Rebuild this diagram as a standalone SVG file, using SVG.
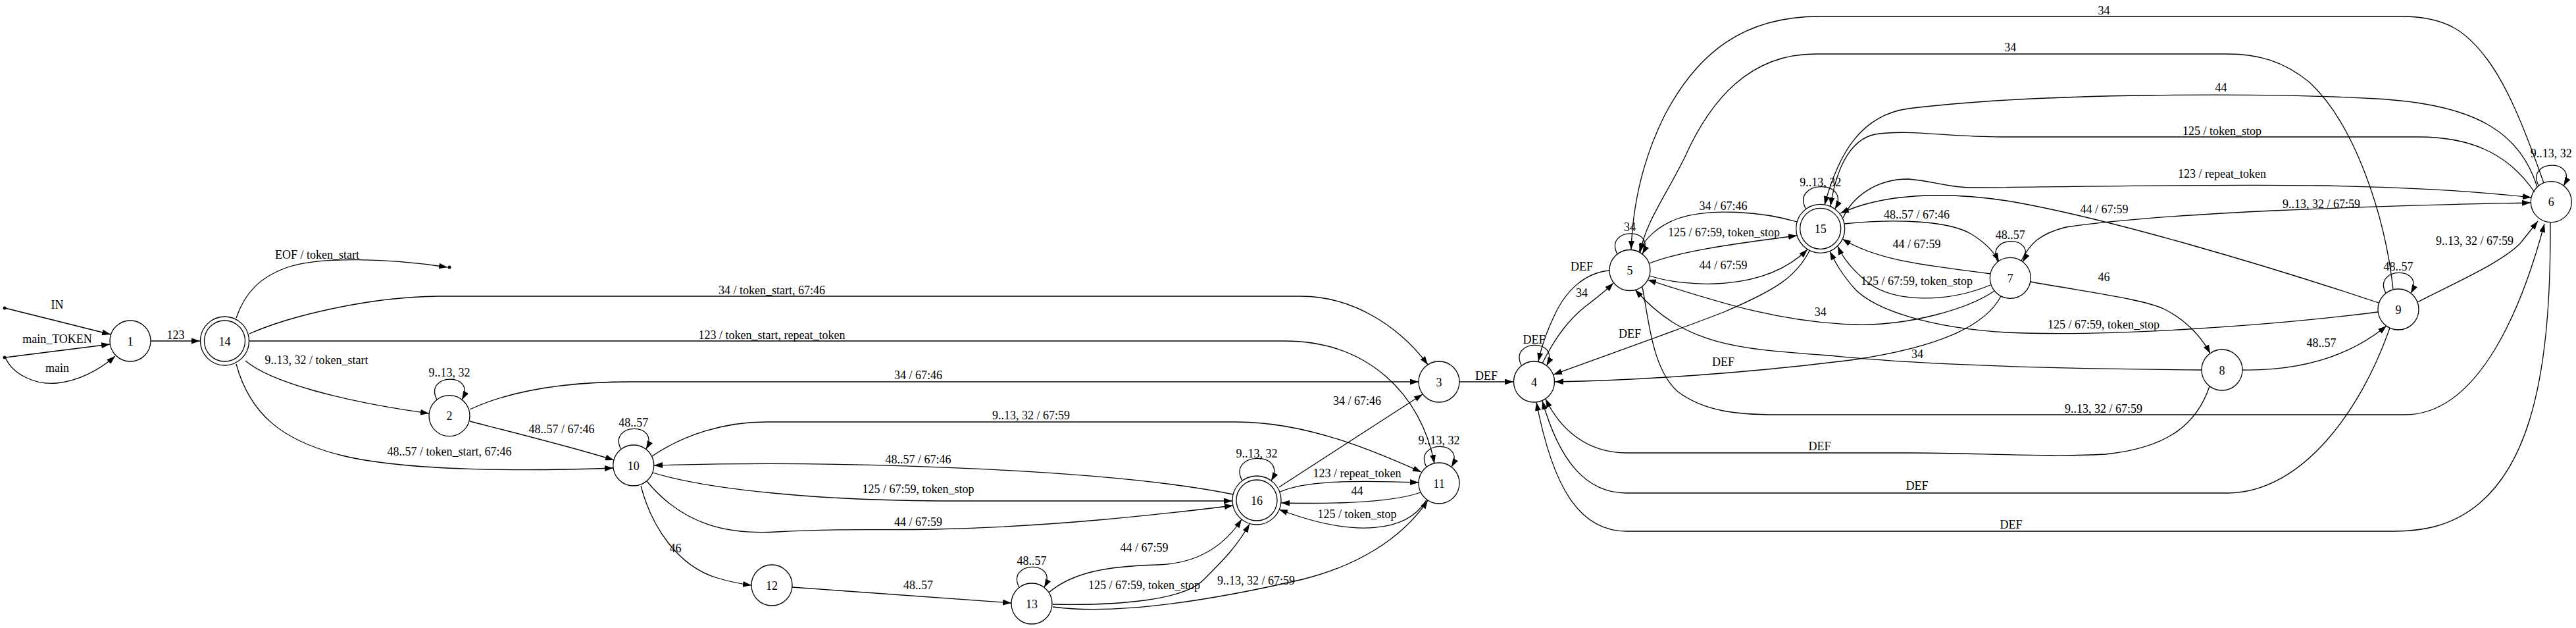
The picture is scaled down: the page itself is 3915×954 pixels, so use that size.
<svg xmlns="http://www.w3.org/2000/svg" width="3915" height="954" viewBox="0 0 3915 954">
<style>
.n{fill:none;stroke:#000;stroke-width:1.3}
.e{fill:none;stroke:#000;stroke-width:1.3;marker-end:url(#a)}
.t{font-family:"Liberation Serif","Times New Roman",serif;font-size:18px;text-anchor:middle;fill:#000}
</style>
<defs>
<marker id="a" viewBox="0 0 13 9" refX="13" refY="4.5" markerWidth="13" markerHeight="9" markerUnits="userSpaceOnUse" orient="auto"><path d="M0,0 L13,4.5 L0,9 z"/></marker>
</defs>
<rect width="3915" height="954" fill="#fff"/>
<g id="nodes">
<g id="start-in"><circle cx="7" cy="468" r="2.5"/></g>
<g id="start-main"><circle cx="7" cy="543" r="2.5"/></g>
<g id="eof"><circle cx="683" cy="406" r="2.5"/></g>
<g id="n1"><circle class="n" cx="198" cy="518" r="31"/><text class="t" x="198" y="524.5">1</text></g>
<g id="n14"><circle class="n" cx="341.5" cy="518" r="31"/><circle class="n" cx="341.5" cy="518" r="37"/><text class="t" x="341.5" y="524.5">14</text></g>
<g id="n2"><circle class="n" cx="683" cy="631.7" r="31"/><text class="t" x="683" y="638.2">2</text></g>
<g id="n10"><circle class="n" cx="962.8" cy="707" r="31"/><text class="t" x="962.8" y="713.5">10</text></g>
<g id="n12"><circle class="n" cx="1173" cy="889" r="31"/><text class="t" x="1173" y="895.5">12</text></g>
<g id="n13"><circle class="n" cx="1568" cy="917" r="31"/><text class="t" x="1568" y="923.5">13</text></g>
<g id="n16"><circle class="n" cx="1910" cy="760" r="31"/><circle class="n" cx="1910" cy="760" r="37"/><text class="t" x="1910" y="766.5">16</text></g>
<g id="n3"><circle class="n" cx="2187" cy="580" r="31"/><text class="t" x="2187" y="586.5">3</text></g>
<g id="n11"><circle class="n" cx="2187" cy="734" r="31"/><text class="t" x="2187" y="740.5">11</text></g>
<g id="n4"><circle class="n" cx="2331.5" cy="580" r="31"/><text class="t" x="2331.5" y="586.5">4</text></g>
<g id="n5"><circle class="n" cx="2477" cy="410.5" r="31"/><text class="t" x="2477" y="417">5</text></g>
<g id="n15"><circle class="n" cx="2766.7" cy="347.3" r="31"/><circle class="n" cx="2766.7" cy="347.3" r="37"/><text class="t" x="2766.7" y="353.8">15</text></g>
<g id="n7"><circle class="n" cx="3055.3" cy="422.3" r="31"/><text class="t" x="3055.3" y="428.8">7</text></g>
<g id="n8"><circle class="n" cx="3377" cy="562" r="31"/><text class="t" x="3377" y="568.5">8</text></g>
<g id="n9"><circle class="n" cx="3645" cy="470" r="31"/><text class="t" x="3645" y="476.5">9</text></g>
<g id="n6"><circle class="n" cx="3877.3" cy="306.7" r="31"/><text class="t" x="3877.3" y="313.2">6</text></g>
</g>
<g id="edges">
<path class="e" d="M8,468 L168,508"/><text class="t" x="87" y="468.5">IN</text>
<path class="e" d="M8,543 L167,523"/><text class="t" x="87" y="521">main_TOKEN</text>
<path class="e" d="M8,543 C20,570 55,585 86,582 C118,579 150,563 175,541"/><text class="t" x="87" y="564.5">main</text>
<path class="e" d="M229,518 L304,518"/><text class="t" x="267" y="514.5">123</text>
<path class="e" d="M359,483 C372,445 395,420 440,405 C490,390 590,392 680,406"/><text class="t" x="482" y="393">EOF / token_start</text>
<path class="e" d="M379,507 C440,480 560,451 666,450 L1977,450 C2060,450 2130,500 2170,554"/><text class="t" x="1173" y="446.5">34 / token_start, 67:46</text>
<path class="e" d="M379,518 L1952,518 C2080,518 2160,600 2180,704"/><text class="t" x="1173" y="515">123 / token_start, repeat_token</text>
<path class="e" d="M373,548 C410,580 520,610 652,628"/><text class="t" x="481" y="553">9..13, 32 / token_start</text>
<path class="e" d="M359,553 C380,630 430,670 520,692 C620,716 800,716 932,711"/><text class="t" x="683" y="691.5">48..57 / token_start, 67:46</text>
<path class="e" d="M664,607.2 C643,566.7 725,564.7 702,607.2"/><text class="t" x="683" y="572">9..13, 32</text>
<path class="e" d="M714,622 C770,596 850,580 960,580 L2156,580"/><text class="t" x="1395.5" y="576">34 / 67:46</text>
<path class="e" d="M714,640 C800,662 880,682 933,699"/><text class="t" x="853.6" y="657.5">48..57 / 67:46</text>
<path class="e" d="M943.8,682.5 C922.8,642 1004.8,640 981.8,682.5"/><text class="t" x="962.8" y="647.5">48..57</text>
<path class="e" d="M991,693 C1040,660 1100,641 1165,641 L1880,641 C1990,641 2100,690 2160,717"/><text class="t" x="1567" y="637">9..13, 32 / 67:59</text>
<path class="e" d="M1874,751 C1700,715 1300,698 994,707"/><text class="t" x="1395.5" y="703.5">48..57 / 67:46</text>
<path class="e" d="M992,718 C1080,745 1250,760 1430,761 L1873,761"/><text class="t" x="1395.5" y="749">125 / 67:59, token_stop</text>
<path class="e" d="M983,731 C1040,800 1110,812 1180,808 C1280,802 1330,806 1420,804 C1600,800 1760,782 1874,768"/><text class="t" x="1395.5" y="799">44 / 67:59</text>
<path class="e" d="M974,738 C990,800 1030,860 1090,878 C1110,884 1125,887 1142,889"/><text class="t" x="1026.6" y="839">46</text>
<path class="e" d="M1204,892 L1537,916"/><text class="t" x="1395.5" y="894.5">48..57</text>
<path class="e" d="M1549,892.5 C1528,852 1610,850 1587,892.5"/><text class="t" x="1568" y="857.5">48..57</text>
<path class="e" d="M1594,900 C1630,870 1680,860 1760,858 C1820,856 1860,830 1887,789"/><text class="t" x="1739" y="838">44 / 67:59</text>
<path class="e" d="M1600,918 C1700,920 1800,912 1830,880 C1860,850 1880,830 1899,796"/><text class="t" x="1739" y="895">125 / 67:59, token_stop</text>
<path class="e" d="M1600,922 C1700,935 1850,910 1980,880 C2060,860 2130,820 2170,760"/><text class="t" x="1909" y="887.5">9..13, 32 / 67:59</text>
<path class="e" d="M1888,730.5 C1864,686 1958,684 1932,730.5"/><text class="t" x="1910" y="695">9..13, 32</text>
<path class="e" d="M1944,740 L2162,599"/><text class="t" x="2062.5" y="615">34 / 67:46</text>
<path class="e" d="M1946,747 C1980,732 2040,729 2156,733"/><text class="t" x="2062.5" y="725">123 / repeat_token</text>
<path class="e" d="M2159,748 C2120,762 2040,766 1947,764"/><text class="t" x="2062.5" y="751.5">44</text>
<path class="e" d="M2168,759 C2140,808 2060,818 1944,774"/><text class="t" x="2062.5" y="786.5">125 / token_stop</text>
<path class="e" d="M2168,709.5 C2147,669 2229,667 2206,709.5"/><text class="t" x="2187" y="675">9..13, 32</text>
<path class="e" d="M2218,580 L2300,580"/><text class="t" x="2259" y="576.5">DEF</text>
<path class="e" d="M2312.5,555.5 C2291.5,515 2373.5,513 2350.5,555.5"/><text class="t" x="2331.5" y="521.5">DEF</text>
<path class="e" d="M2344,552 C2365,510 2385,485 2410,465 C2430,450 2442,440 2452,430"/><text class="t" x="2404" y="450.5">34</text>
<path class="e" d="M2446,411 C2410,414 2380,440 2362,480 C2350,505 2342,530 2338,549"/><text class="t" x="2404" y="411">DEF</text>
<path class="e" d="M2458,386 C2437,345.5 2519,343.5 2496,386"/><text class="t" x="2477" y="351">34</text>
<path class="e" d="M2731,337 C2680,322 2600,315 2550,332 C2520,343 2500,362 2491,382"/><text class="t" x="2619" y="319">34 / 67:46</text>
<path class="e" d="M2507,400 C2550,383 2620,372 2731,358"/><text class="t" x="2620" y="359">125 / 67:59, token_stop</text>
<path class="e" d="M2507,419 C2560,436 2680,445 2747,379"/><text class="t" x="2619" y="409">44 / 67:59</text>
<path class="e" d="M2744.7,317.8 C2720.7,273.3 2814.7,271.3 2788.7,317.8"/><text class="t" x="2766.7" y="283">9..13, 32</text>
<path class="e" d="M2750,381 C2730,420 2700,440 2620,474 C2540,505 2440,540 2361,569"/><text class="t" x="2477" y="513">DEF</text>
<path class="e" d="M3041,450 C3020,490 2960,525 2820,546 C2650,568 2480,578 2363,580"/><text class="t" x="2619" y="555.5">DEF</text>
<path class="e" d="M3031,442 C2990,470 2900,495 2820,493 C2700,490 2600,455 2504,425"/><text class="t" x="2766.7" y="480">34</text>
<path class="e" d="M3346,562 C3100,560 2900,553 2780,540 C2640,530 2560,525 2485,440"/><text class="t" x="2914" y="543.5">34</text>
<path class="e" d="M2803,340 C2880,332 2960,335 2995,355 C3015,367 3030,382 3038,397"/><text class="t" x="2913" y="331.5">48..57 / 67:46</text>
<path class="e" d="M3025,416 C2950,405 2860,400 2800,363"/><text class="t" x="2913" y="376.5">44 / 67:59</text>
<path class="e" d="M3025,433 C2960,460 2880,460 2840,430 C2815,410 2800,390 2793,374"/><text class="t" x="2913" y="433">125 / 67:59, token_stop</text>
<path class="e" d="M3036.3,397.8 C3015.3,357.3 3097.3,355.3 3074.3,397.8"/><text class="t" x="3055.3" y="363">48..57</text>
<path class="e" d="M3086,428 C3180,445 3260,455 3290,470 C3320,485 3345,510 3359,537"/><text class="t" x="3197.6" y="427">46</text>
<path class="e" d="M3614,474 C3450,495 3200,512 3050,505 C2930,498 2850,470 2820,440 C2800,418 2790,400 2781,382"/><text class="t" x="3197" y="499">125 / 67:59, token_stop</text>
<path class="e" d="M3615,460 C3450,405 3200,330 3050,305 C2950,290 2860,295 2797,324"/><text class="t" x="3198" y="324">44 / 67:59</text>
<path class="e" d="M3072,396 C3085,370 3100,355 3140,345 C3300,322 3600,313 3846,308"/><text class="t" x="3528" y="316">9..13, 32 / 67:59</text>
<path class="e" d="M2801,331 C2815,300 2850,272 2900,272 C2940,275 2960,285 3000,285 C3300,283 3600,272 3847,300"/><text class="t" x="3377" y="270">123 / repeat_token</text>
<path class="e" d="M3852,292 C3810,230 3750,208 3676,208 L3042,208 C2960,208 2900,196 2850,204 C2810,212 2790,260 2782,313"/><text class="t" x="3377" y="205">125 / token_stop</text>
<path class="e" d="M3856,284 C3830,200 3760,158 3611,150 C3450,141 3100,140 2900,165 C2830,175 2795,230 2773,311"/><text class="t" x="3375.5" y="139">44</text>
<path class="e" d="M3866,278 C3835,190 3810,130 3780,90 C3750,50 3720,25 3650,25 L2765,25 C2650,25 2580,80 2530,175 C2500,235 2482,300 2479,379"/><text class="t" x="3197.6" y="21.5">34</text>
<path class="e" d="M3637,439 C3625,330 3580,190 3510,125 C3470,92 3430,82 3385,82 L2759,82 C2660,82 2600,150 2560,240 C2530,300 2500,340 2493,383"/><text class="t" x="3055.3" y="78">34</text>
<path class="e" d="M3626,445.5 C3605,405 3687,403 3664,445.5"/><text class="t" x="3645" y="410.5">48..57</text>
<path class="e" d="M3632,498 C3590,620 3500,749 3385,749 L2472,749 C2410,749 2370,700 2344,609"/><text class="t" x="2913.6" y="744">DEF</text>
<path class="e" d="M3358,587 C3340,640 3300,680 3200,690 C3120,695 3000,688 2900,688 L2472,688 C2410,688 2370,650 2349,606"/><text class="t" x="2765.6" y="684">DEF</text>
<path class="e" d="M3876,338 C3877,560 3850,760 3700,800 C3680,805 3660,807 3640,807 L2472,807 C2400,807 2360,740 2335,611"/><text class="t" x="3056.6" y="803">DEF</text>
<path class="e" d="M2496,436 C2505,480 2510,560 2550,595 C2590,625 2640,630 2700,630 L3655,630 C3770,630 3835,460 3867,340"/><text class="t" x="3197" y="626.5">9..13, 32 / 67:59</text>
<path class="e" d="M3674,459 C3730,430 3800,400 3830,370 C3842,355 3850,345 3857,336"/><text class="t" x="3761" y="371.5">9..13, 32 / 67:59</text>
<path class="e" d="M3408,562 C3480,563 3560,550 3627,495"/><text class="t" x="3528" y="526.5">48..57</text>
<path class="e" d="M3858.3,282.2 C3837.3,241.7 3919.3,239.7 3896.3,282.2"/><text class="t" x="3877.3" y="238.5">9..13, 32</text>
</g>
</svg>
